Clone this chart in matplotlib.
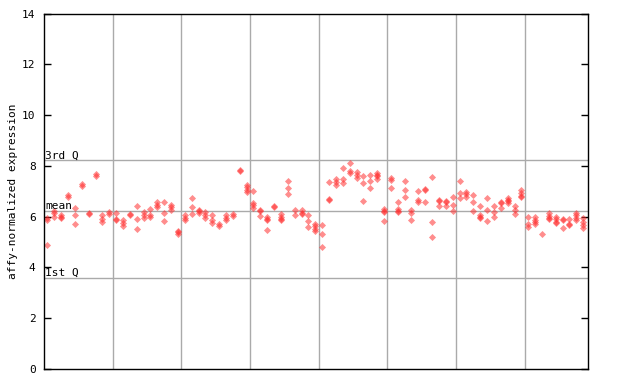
import numpy as np
import matplotlib
matplotlib.use('Agg')
import matplotlib.pyplot as plt

# expression values per sample column (replicates)
replicates = [
    [5.95, 5.85, 4.88], [6.24, 6.14, 6.00], [6.08, 5.97, 5.93], [6.85, 6.78],
    [6.33, 6.06, 5.70], [7.30, 7.22], [6.15, 6.10], [7.68, 7.62],
    [6.05, 5.90, 5.80], [6.18, 6.10],
    [6.14, 5.90, 5.86], [5.86, 5.74, 5.62], [6.12, 6.07], [6.43, 5.90, 5.51],
    [6.20, 6.07, 5.95], [6.30, 6.08, 5.99], [6.56, 6.47, 6.38], [6.56, 6.14, 5.83],
    [6.47, 6.38, 6.28], [5.45, 5.40, 5.32],
    [6.05, 5.95, 5.85], [6.73, 6.38, 6.11], [6.28, 6.24, 6.14], [6.19, 6.06, 5.93],
    [6.06, 5.86, 5.73], [5.70, 5.65], [6.06, 5.96, 5.86], [6.10, 6.04],
    [7.84, 7.78], [7.25, 7.15, 7.06, 6.98],
    [7.00, 6.55, 6.45, 6.33], [6.26, 6.22, 6.03], [6.00, 5.92, 5.88, 5.48], [6.42, 6.38],
    [6.12, 6.00, 5.90, 5.86], [7.41, 7.13, 6.89], [6.27, 6.07], [6.27, 6.16, 6.12],
    [6.07, 5.84, 5.59], [5.72, 5.63, 5.53, 5.45],
    [5.68, 5.31, 4.80], [7.36, 6.68, 6.64], [7.49, 7.38, 7.26], [7.91, 7.48, 7.32],
    [8.11, 7.78, 7.70], [7.76, 7.63, 7.52], [7.61, 7.32, 6.62], [7.64, 7.40, 7.12],
    [7.70, 7.64, 7.60, 7.49], [6.30, 6.22, 6.18, 5.84],
    [7.52, 7.43, 7.12], [6.59, 6.32, 6.24, 6.20], [7.39, 7.05, 6.78], [6.26, 6.16, 5.87],
    [7.00, 6.66, 6.57], [7.10, 7.03, 6.57], [7.56, 5.78, 5.19], [6.65, 6.60, 6.40],
    [6.62, 6.58, 6.40], [6.79, 6.47, 6.24],
    [7.40, 6.93, 6.73], [6.98, 6.89, 6.77], [6.86, 6.57, 6.23], [6.42, 6.06, 6.00, 5.95],
    [6.73, 6.26, 5.84], [6.40, 6.19, 5.97], [6.58, 6.55, 6.34], [6.73, 6.66, 6.62, 6.54],
    [6.43, 6.26, 6.10], [7.06, 6.93, 6.81, 6.77],
    [6.00, 5.72, 5.61], [5.97, 5.88, 5.80, 5.70], [5.31], [6.14, 6.03, 5.95, 5.92],
    [5.98, 5.90, 5.79, 5.75], [5.90, 5.86, 5.55], [5.90, 5.70, 5.66], [6.14, 6.05, 5.95, 5.87],
    [5.93, 5.80, 5.68, 5.55],
]

stat_names = ['3rd Q', 'mean', '1st Q']
stat_values = [8.24, 6.23, 3.60]

y_ticks = [0, 2, 4, 6, 8, 10, 12, 14]
group_size = 10

mono = 'DejaVu Sans Mono'

fig = plt.figure(figsize=(6.4, 3.84), dpi=100)
ax = fig.add_axes([44 / 640, 15 / 384, 544 / 640, 355.5 / 384])

n = len(replicates)
xs, ys = [], []
for i, vals in enumerate(replicates):
    xs += [i] * len(vals)
    ys += vals

# quartile / mean reference lines
for name, val in zip(stat_names, stat_values):
    ax.axhline(val, color='#aaaaaa', lw=1, zorder=1)
    ax.text(-0.35, val - 0.02, name, fontsize=8, family=mono,
            ha='left', va='bottom', zorder=3)

# vertical separators every 10 samples
for gx in np.arange(group_size - 0.5, n - 1, group_size):
    ax.axvline(gx, color='#aaaaaa', lw=1, zorder=1)

ax.scatter(xs, ys, marker='D', s=13, color='#ff3030', alpha=0.55,
           linewidths=0, zorder=2)

ax.set_xlim(-0.5, n - 0.3)
ax.set_ylim(0, 14)
ax.set_xticks([])
ax.set_yticks(y_ticks)
ax.set_yticklabels([str(t) for t in y_ticks], family=mono, fontsize=8)
ax.tick_params(axis='y', direction='in', length=5, width=1, right=True, pad=6)
for sp in ax.spines.values():
    sp.set_linewidth(1)
    sp.set_color('black')

ax.set_ylabel('affy-normalized expression', family=mono, fontsize=8, labelpad=3)

fig.savefig('out.png', dpi=100)
